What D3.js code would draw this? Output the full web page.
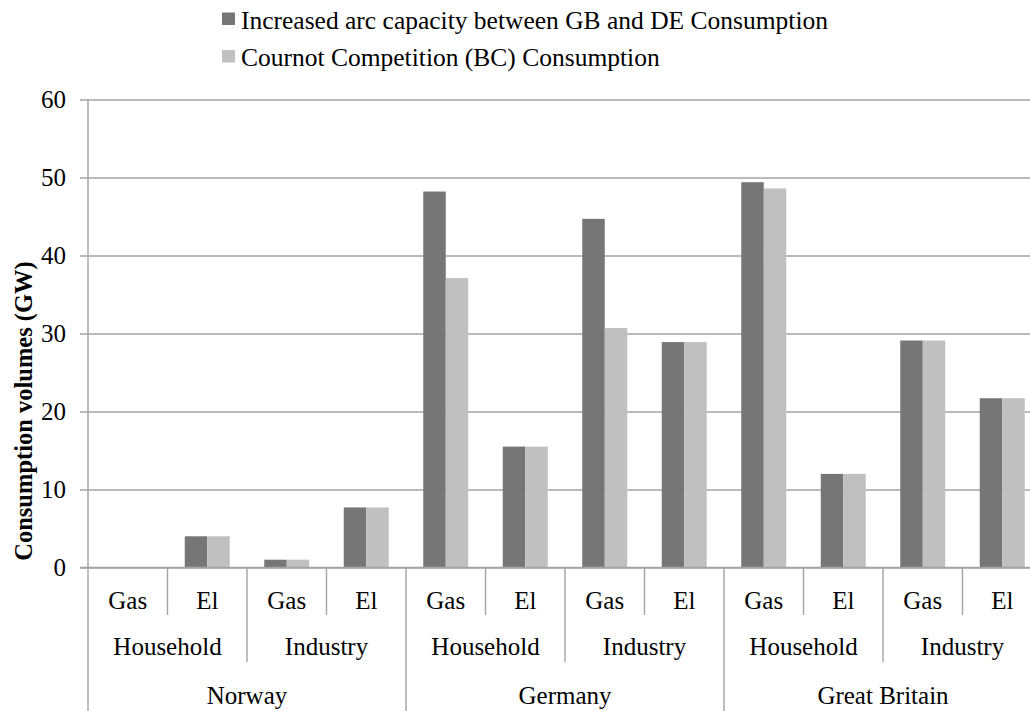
<!DOCTYPE html>
<html>
<head>
<meta charset="utf-8">
<script src="https://cdn.jsdelivr.net/npm/d3@7/dist/d3.min.js"></script>
<style>
  html, body { margin: 0; padding: 0; background: #fff; }
  svg { display: block; font-family: "Liberation Serif", "Times New Roman", serif; }
</style>
</head>
<body>
<svg id="chart" width="1030" height="711"></svg>
<script>
// Category hierarchy (country > sector > fuel)
const countries = ["Norway", "Germany", "Great Britain"];
const sectors = ["Household", "Industry"];
const fuels = ["Gas", "El"];

// Series names
const seriesNames = [
  "Increased arc capacity between GB and DE Consumption",
  "Cournot Competition (BC) Consumption"
];

// Consumption volumes (GW), one value per leaf category, in hierarchy order
const increasedArc = [0, 4.0, 1.0, 7.7, 48.2, 15.5, 44.7, 28.9, 49.4, 12.0, 29.1, 21.7];
const cournotBC    = [0, 4.0, 1.0, 7.7, 37.1, 15.5, 30.7, 28.9, 48.6, 12.0, 29.1, 21.7];

const yTicks = [0, 10, 20, 30, 40, 50, 60];
const yTitle = "Consumption volumes (GW)";

const colors = ["#767676", "#c0c0c0"];
const gridColor = "#a3a3a3";
const fontSize = 25;

const svg = d3.select("#chart");

// Leaf categories built from the hierarchy
const leaves = [];
countries.forEach((c) => sectors.forEach((s) => fuels.forEach((f) => {
  leaves.push({ country: c, sector: s, fuel: f, idx: leaves.length });
})));
leaves.forEach((d, i) => { d.values = [increasedArc[i], cournotBC[i]]; });

const plotLeft = 88, plotRight = 1042, plotTop = 99.5, plotBottom = 567.5;

const x = d3.scaleBand().domain(leaves.map(d => d.idx)).range([plotLeft, plotRight]).paddingInner(0).paddingOuter(0);
const xs = d3.scaleBand().domain([0, 1]).range([0, x.bandwidth()]).paddingInner(0).paddingOuter(0.767);
const y = d3.scaleLinear().domain([0, 60]).range([plotBottom, plotTop]);

// Horizontal gridlines with small outward ticks
const yAxis = d3.axisLeft(y).tickValues(yTicks).tickSize(-(plotRight - plotLeft)).tickPadding(14).tickFormat(d3.format("d"));
const gy = svg.append("g").attr("transform", `translate(${plotLeft},0)`).call(yAxis);
gy.select(".domain").remove();
gy.selectAll(".tick line").attr("stroke", gridColor).attr("stroke-width", 1.4).attr("x1", -8);
gy.selectAll(".tick text")
  .attr("x", -22)
  .attr("dy", "0.33em")
  .attr("fill", "#000")
  .style("font-size", fontSize + "px")
  .style("font-family", "'Liberation Serif', serif");

// Bars
const groups = svg.append("g").selectAll("g").data(leaves).join("g")
  .attr("transform", d => `translate(${x(d.idx)},0)`);
groups.selectAll("rect").data(d => d.values.map((v, k) => ({ v, k }))).join("rect")
  .attr("x", d => xs(d.k))
  .attr("width", xs.bandwidth())
  .attr("y", d => y(d.v))
  .attr("height", d => y(0) - y(d.v))
  .attr("fill", d => colors[d.k]);

// Vertical value axis line (extends down through the category labels)
svg.append("line")
  .attr("x1", plotLeft).attr("x2", plotLeft).attr("y1", plotTop).attr("y2", 711)
  .attr("stroke", gridColor).attr("stroke-width", 1.4);

// Baseline redrawn above the bars
svg.append("line")
  .attr("x1", plotLeft - 8).attr("x2", 1030).attr("y1", y(0)).attr("y2", y(0))
  .attr("stroke", gridColor).attr("stroke-width", 1.4);

// Multi-level category axis
const row1 = 608.5, row2 = 655, row3 = 703.5;
const ax = svg.append("g").style("font-size", fontSize + "px").attr("fill", "#000");

// Separator lines: leaf boundaries short, sector boundaries medium, country boundaries full
for (let i = 1; i < leaves.length; i++) {
  const xx = x(i);
  let y2 = 615;
  if (i % 4 === 0) y2 = 711;
  else if (i % 2 === 0) y2 = 662;
  ax.append("line").attr("x1", xx).attr("x2", xx).attr("y1", y(0)).attr("y2", y2)
    .attr("stroke", gridColor).attr("stroke-width", 1.4);
}

// Fuel labels
ax.selectAll("text.fuel").data(leaves).join("text")
  .attr("class", "fuel")
  .attr("x", d => x(d.idx) + x.bandwidth() / 2)
  .attr("y", row1)
  .attr("text-anchor", "middle")
  .text(d => d.fuel);

// Sector labels
const sectorCells = [];
countries.forEach((c, ci) => sectors.forEach((s, si) => {
  sectorCells.push({ label: s, start: ci * 4 + si * 2, span: 2 });
}));
ax.selectAll("text.sector").data(sectorCells).join("text")
  .attr("class", "sector")
  .attr("x", d => x(d.start) + x.bandwidth() * d.span / 2)
  .attr("y", row2)
  .attr("text-anchor", "middle")
  .text(d => d.label);

// Country labels
const countryCells = countries.map((c, ci) => ({ label: c, start: ci * 4, span: 4 }));
ax.selectAll("text.country").data(countryCells).join("text")
  .attr("class", "country")
  .attr("x", d => x(d.start) + x.bandwidth() * d.span / 2)
  .attr("y", row3)
  .attr("text-anchor", "middle")
  .text(d => d.label);

// Y axis title
svg.append("text")
  .attr("transform", "translate(32,411) rotate(-90)")
  .attr("text-anchor", "middle")
  .style("font-size", "24.5px")
  .style("font-weight", "bold")
  .text(yTitle);

// Legend
const legend = svg.append("g");
seriesNames.forEach((name, k) => {
  const by = 28.5 + k * 37.5;
  legend.append("rect")
    .attr("x", 222).attr("y", by - 16).attr("width", 13).attr("height", 12.5)
    .attr("fill", colors[k]);
  legend.append("text")
    .attr("x", 241).attr("y", by)
    .style("font-size", "25.5px")
    .text(name);
});
</script>
</body>
</html>
